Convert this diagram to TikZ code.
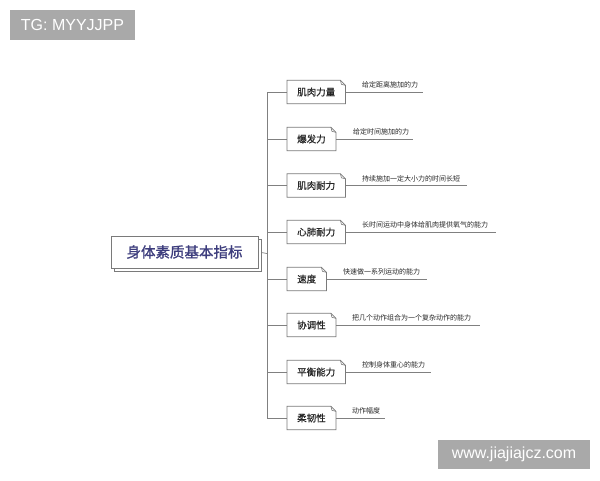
\documentclass[tikz,border=0pt]{standalone}
\usepackage{fontspec}
\setmainfont{Liberation Sans}
\newfontfamily\cjk{Noto Sans CJK SC}
\newfontfamily\cjkb[FakeBold=1.2]{Noto Sans CJK SC}
\newfontfamily\cjkm[FakeBold=0.6]{Noto Sans CJK SC}
\usetikzlibrary{shadows,backgrounds}
\definecolor{linegray}{HTML}{808080}
\definecolor{boxgray}{HTML}{7A7A7A}
\definecolor{maintext}{HTML}{3D3D7D}
\definecolor{wmgray}{HTML}{A9A9A9}
\tikzset{
  rootbox/.style={draw=boxgray, fill=white, line width=0.8pt, minimum width=147pt, minimum height=32pt,
    inner sep=0pt, font=\cjkb\fontsize{14.5}{16}\selectfont, text=maintext,
    copy shadow={shadow xshift=3.5pt, shadow yshift=-3.5pt, draw=boxgray, fill=white}},
  leaf/.style={anchor=west, minimum height=23pt, inner xsep=10pt, inner ysep=0pt,
    font=\cjkm\fontsize{9.5}{11}\selectfont, text=black!85},
  leafline/.style={draw=boxgray, line width=0.7pt, fill=white},
  desc/.style={anchor=base west, inner sep=0pt, font=\cjk\fontsize{7}{8}\selectfont, text=black!85},
  conn/.style={draw=linegray, line width=0.7pt},
  wm/.style={fill=wmgray, text=white, inner sep=0pt, font=\fontsize{16}{18}\selectfont}
}
\begin{document}
\begin{tikzpicture}[x=1pt,y=-1pt]
\useasboundingbox (0,0) rectangle (600,480);
% watermarks
\node[wm, minimum width=125pt, minimum height=30pt] (tg) at (72.5,25) {TG: MYYJJPP};
\node[wm, minimum width=152pt, minimum height=29pt] (www) at (514,454.5) {www.jiajiajcz.com};
% root
\node[rootbox] (root) at (184.5,252) {身体素质基本指标};
% trunk coordinates
\coordinate (rj) at (267,253.5);
\coordinate (ttop) at (267,92);
\coordinate (tbot) at (267,418);
% leaves
\node[leaf] (l1) at (287,92) {肌肉力量};
\node[leaf] (l2) at (287,139) {爆发力};
\node[leaf] (l3) at (287,185.5) {肌肉耐力};
\node[leaf] (l4) at (287,232) {心肺耐力};
\node[leaf] (l5) at (287,279) {速度};
\node[leaf] (l6) at (287,325) {协调性};
\node[leaf] (l7) at (287,372) {平衡能力};
\node[leaf] (l8) at (287,418) {柔韧性};
% description line ends
\coordinate (e1) at (423,92);
\coordinate (e2) at (413,139);
\coordinate (e3) at (467,185.5);
\coordinate (e4) at (496,232);
\coordinate (e5) at (427,279);
\coordinate (e6) at (480,325);
\coordinate (e7) at (431,372);
\coordinate (e8) at (385,418);
% descriptions
\node[desc] (d1) at (362,87.5) {给定距离施加的力};
\node[desc] (d2) at (353,134.5) {给定时间施加的力};
\node[desc] (d3) at (362,181) {持续施加一定大小力的时间长短};
\node[desc] (d4) at (362,227.5) {长时间运动中身体给肌肉提供氧气的能力};
\node[desc] (d5) at (343,274.5) {快速做一系列运动的能力};
\node[desc] (d6) at (352,320.5) {把几个动作组合为一个复杂动作的能力};
\node[desc] (d7) at (362,367.5) {控制身体重心的能力};
\node[desc] (d8) at (352,413.5) {动作幅度};
\begin{scope}[on background layer]
\draw[conn] (ttop) -- (tbot);
\draw[conn] (root.east) -- (rj);
\foreach \i in {1,...,8} {
  \draw[conn] (l\i.west -| ttop) -- (l\i.west);
  \draw[conn] (l\i.east) -- (e\i);
  \draw[leafline] (l\i.south west) -- (l\i.south east) -- ([yshift=-5pt]l\i.north east)
      -- ([xshift=-5pt]l\i.north east) -- (l\i.north west) -- cycle;
  \draw[draw=boxgray, line width=0.6pt] ([xshift=-5pt]l\i.north east) -- ([xshift=-4pt,yshift=-4pt]l\i.north east) -- ([yshift=-5pt]l\i.north east);
}
\end{scope}
\end{tikzpicture}
\end{document}
